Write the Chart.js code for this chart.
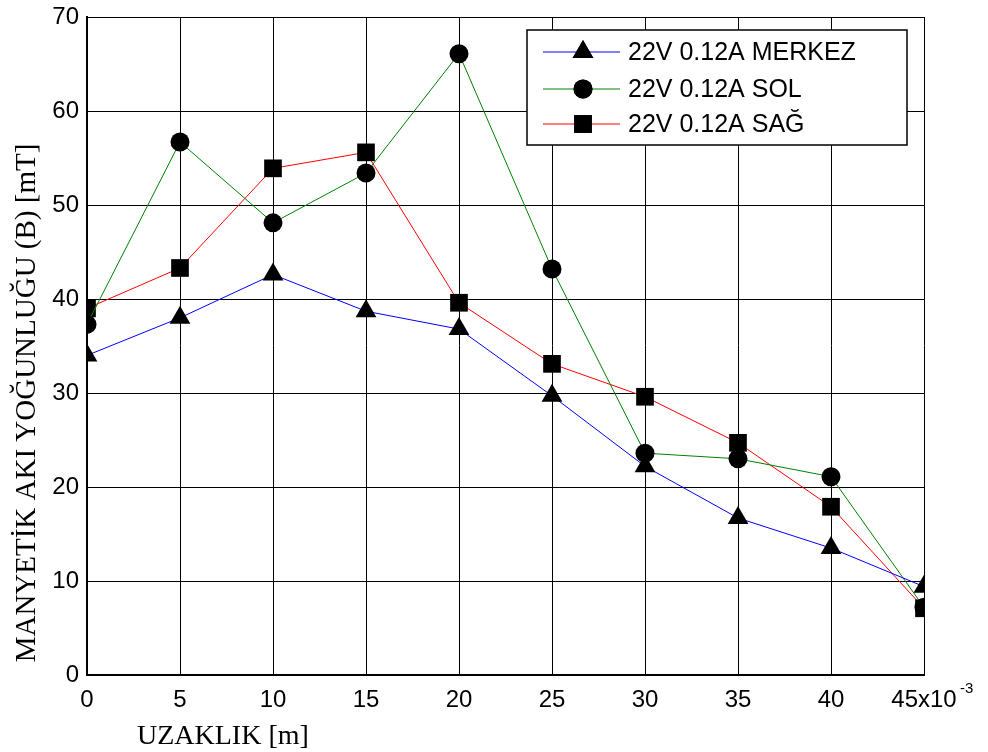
<!DOCTYPE html>
<html>
<head>
<meta charset="utf-8">
<script src="https://cdn.jsdelivr.net/npm/chart.js@4/dist/chart.umd.min.js"></script>
<style>
  html, body { margin: 0; padding: 0; background: #fff; }
  #wrap { width: 988px; height: 752px; }
</style>
</head>
<body>
<div id="wrap"><canvas id="fluxChart" width="988" height="752"></canvas></div>
<script>
// mesafe (x10^-3 m) ve ölçülen akı yoğunlukları (mT)
const distances = [0, 5, 10, 15, 20, 25, 30, 35, 40, 45];
const merkez = [34.0, 38.0, 42.6, 38.7, 36.8, 29.7, 22.2, 16.7, 13.5, 9.4];
const sol = [37.3, 56.7, 48.1, 53.4, 66.1, 43.2, 23.6, 23.0, 21.1, 7.2];
const sag = [39.0, 43.3, 53.9, 55.6, 39.6, 33.1, 29.6, 24.7, 17.9, 7.1];
const xTicks = [0, 5, 10, 15, 20, 25, 30, 35, 40, 45];
const yTicks = [0, 10, 20, 30, 40, 50, 60, 70];
const seriesNames = ['22V 0.12A MERKEZ', '22V 0.12A SOL', '22V 0.12A SAĞ'];

const toPoints = vals => vals.map((v, i) => ({ x: distances[i], y: v }));
const tickFont = { family: 'Liberation Sans, Arial, sans-serif', size: 24 };

// eksen başlıkları, üs ifadesi ve lejant elle çiziliyor
const extras = {
    id: 'extras',
    afterDatasetsDraw(chart) {
        const ctx = chart.ctx;
        const xs = chart.scales.x;
        ctx.save();

        // 45x10^-3 üssü
        ctx.fillStyle = '#000';
        ctx.font = '15px Liberation Sans, Arial, sans-serif';
        ctx.textAlign = 'left';
        ctx.textBaseline = 'middle';
        ctx.fillText('-3', xs.getPixelForValue(45) + 36, 689);

        // eksen başlıkları
        ctx.font = '28px Liberation Serif, Times New Roman, serif';
        ctx.textAlign = 'left';
        ctx.textBaseline = 'alphabetic';
        ctx.fillText('UZAKLIK [m]', 137, 744);

        ctx.save();
        ctx.translate(35, 403);
        ctx.rotate(-Math.PI / 2);
        ctx.textAlign = 'center';
        ctx.font = '29px Liberation Serif, Times New Roman, serif';
        ctx.fillText('MANYETİK AKI YOĞUNLUĞU (B) [mT]', 0, 0);
        ctx.restore();

        // lejant
        const bx = 527, by = 30, bw = 380, bh = 115;
        ctx.fillStyle = '#fff';
        ctx.fillRect(bx, by, bw, bh);
        ctx.strokeStyle = '#000';
        ctx.lineWidth = 1.5;
        ctx.strokeRect(bx, by, bw, bh);
        const rows = [52, 89, 124];
        chart.data.datasets.forEach((ds, i) => {
            const y = rows[i];
            ctx.strokeStyle = ds.borderColor;
            ctx.lineWidth = 1;
            ctx.beginPath();
            ctx.moveTo(543, y);
            ctx.lineTo(620, y);
            ctx.stroke();
            ctx.fillStyle = '#000';
            Chart.helpers.drawPoint(ctx, {
                pointStyle: ds.pointStyle,
                radius: ds.pointRadius,
                rotation: 0,
                borderWidth: 0
            }, 583, y);
            ctx.fill();
            ctx.font = '25px Liberation Sans, Arial, sans-serif';
            ctx.textAlign = 'left';
            ctx.textBaseline = 'middle';
            ctx.fillText(seriesNames[i], 628, y + 1);
        });
        ctx.restore();
    }
};

const base = {
    borderWidth: 1,
    pointBackgroundColor: '#000',
    pointBorderColor: '#000',
    pointBorderWidth: 0,
    tension: 0
};

new Chart(document.getElementById('fluxChart'), {
    type: 'line',
    data: {
        datasets: [
            { ...base, label: seriesNames[0], data: toPoints(merkez), borderColor: '#0000ff',
              pointStyle: 'triangle', pointRadius: 12 },
            { ...base, label: seriesNames[1], data: toPoints(sol), borderColor: '#008000',
              pointStyle: 'circle', pointRadius: 9.5 },
            { ...base, label: seriesNames[2], data: toPoints(sag), borderColor: '#ff0000',
              pointStyle: 'rect', pointRadius: 12.5 }
        ]
    },
    options: {
        responsive: false,
        animation: false,
        layout: { padding: { left: 0, top: 17, right: 64, bottom: 0 } },
        plugins: { legend: { display: false }, tooltip: { enabled: false } },
        scales: {
            x: {
                type: 'linear', min: 0, max: 45,
                afterFit: s => { s.height = 77; s.paddingLeft = 0; s.paddingRight = 0; },
                afterBuildTicks: s => { s.ticks = xTicks.map(v => ({ value: v })); },
                grid: { color: '#000', lineWidth: 1, drawTicks: false },
                border: { color: '#000', width: 2 },
                ticks: {
                    color: '#000', font: tickFont, padding: 11, maxRotation: 0,
                    callback: v => v === 45 ? '45x10' : String(v)
                }
            },
            y: {
                min: 0, max: 70,
                afterFit: s => { s.width = 87; s.paddingTop = 0; s.paddingBottom = 0; },
                afterBuildTicks: s => { s.ticks = yTicks.map(v => ({ value: v })); },
                grid: { color: '#000', lineWidth: 1, drawTicks: false },
                border: { color: '#000', width: 2 },
                ticks: { color: '#000', font: tickFont, padding: 8 }
            }
        }
    },
    plugins: [extras]
});
</script>
</body>
</html>
